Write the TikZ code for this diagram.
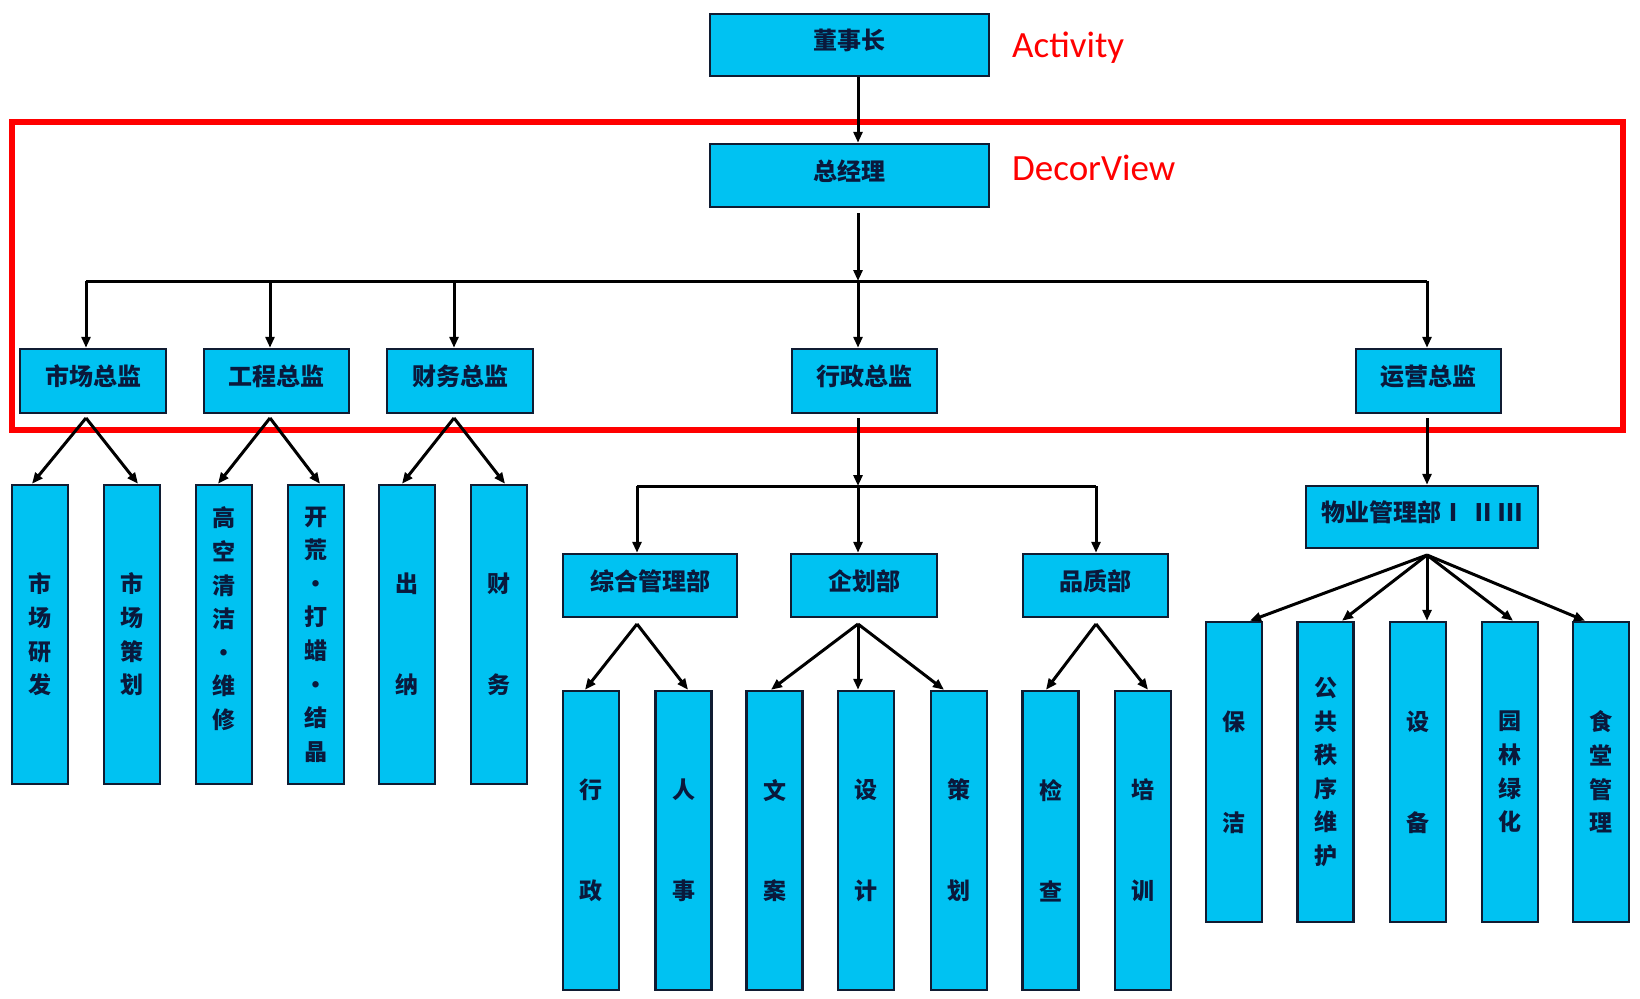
\documentclass[tikz,border=0pt]{standalone}
\usepackage{fontspec}
\newfontfamily\cjk{Noto Sans CJK SC}
\newfontfamily\latinsans{Carlito}
\usetikzlibrary{arrows.meta}
\definecolor{boxfill}{RGB}{0,194,242}
\definecolor{boxline}{RGB}{16,28,50}
\definecolor{txtcol}{RGB}{10,25,60}
\begin{document}
\begin{tikzpicture}[x=1pt,y=-1pt,
  box/.style={draw=boxline,fill=boxfill,line width=2.5pt,inner sep=0pt,text=txtcol,
    font=\cjk\bfseries\fontsize{24}{28}\selectfont},
  hbox/.style={box,minimum height=63pt,text height=20pt,text depth=11pt},
  vbox/.style={box,minimum width=56pt,minimum height=299pt,align=center,
    font=\cjk\bfseries\fontsize{23}{33.6}\selectfont},
  arr/.style={line width=3pt,draw=black,-{Triangle[length=11pt,width=9pt]}},
  ln/.style={line width=3pt,draw=black},
  redlabel/.style={anchor=base west,inner sep=0pt,text=red,font=\latinsans\fontsize{37}{40}\selectfont}
]
\useasboundingbox (0,0) rectangle (1640,998);
\fill[white] (0,0) rectangle (1640,998);

% red frame
\draw[red,line width=5.5pt] (12,122) rectangle (1623,430);
\node[redlabel] (act) at (1012,57) {Activity};
\node[redlabel] (dec) at (1012,180) {DecorView};

% top
\node[hbox,minimum width=279pt,minimum height=62pt] (dsz) at (849.5,45) {董事长};
\node[hbox,minimum width=279pt] (zjl) at (849.5,175.5) {总经理};

% level 2
\node[hbox,minimum width=146pt,minimum height=64pt] (sc) at (93,381) {市场总监};
\node[hbox,minimum width=145pt,minimum height=64pt] (gc) at (276.5,381) {工程总监};
\node[hbox,minimum width=146pt,minimum height=64pt] (cw) at (460,381) {财务总监};
\node[hbox,minimum width=145pt,minimum height=64pt] (xz) at (864.5,381) {行政总监};
\node[hbox,minimum width=145pt,minimum height=64pt] (yy) at (1428.5,381) {运营总监};

% level 3 left
\node[vbox] (v1) at (40,634.5) {市\\场\\研\\发};
\node[vbox] (v2) at (132,634.5) {市\\场\\策\\划};
\node[vbox] (v3) at (224,634.5) {高\\空\\清\\洁\\·\\维\\修\\\mbox{}};
\node[vbox] (v4) at (316,634.5) {开\\荒\\·\\打\\蜡\\·\\结\\晶};
\node[vbox] (v5) at (407,634.5) {出\\\mbox{}\\\mbox{}\\纳};
\node[vbox] (v6) at (499,634.5) {财\\\mbox{}\\\mbox{}\\务};

% middle departments
\node[hbox,minimum width=174pt] (zh) at (650,585.5) {综合管理部};
\node[hbox,minimum width=146pt] (qh) at (864,585.5) {企划部};
\node[hbox,minimum width=145pt] (pz) at (1095.5,585.5) {品质部};

\node[vbox] (m1) at (591,840.5) {行\\\mbox{}\\\mbox{}\\政};
\node[vbox] (m2) at (683.5,840.5) {人\\\mbox{}\\\mbox{}\\事};
\node[vbox] (m3) at (774.5,840.5) {文\\\mbox{}\\\mbox{}\\案};
\node[vbox] (m4) at (866,840.5) {设\\\mbox{}\\\mbox{}\\计};
\node[vbox] (m5) at (959,840.5) {策\\\mbox{}\\\mbox{}\\划};
\node[vbox] (m6) at (1050.5,840.5) {检\\\mbox{}\\\mbox{}\\查};
\node[vbox] (m7) at (1143,840.5) {培\\\mbox{}\\\mbox{}\\训};

% right
\node[hbox,minimum width=232pt,minimum height=62pt] (wy) at (1422,517) {物业管理部Ⅰ Ⅱ\hspace{3pt}Ⅲ};
\node[vbox,minimum height=300pt] (r1) at (1234,772) {保\\\mbox{}\\\mbox{}\\洁};
\node[vbox,minimum height=300pt] (r2) at (1325.5,772) {公\\共\\秩\\序\\维\\护};
\node[vbox,minimum height=300pt] (r3) at (1418,772) {设\\\mbox{}\\\mbox{}\\备};
\node[vbox,minimum height=300pt] (r4) at (1510,772) {园\\林\\绿\\化};
\node[vbox,minimum height=300pt] (r5) at (1601,772) {食\\堂\\管\\理};

% junction coordinates
\coordinate (barL) at (86,281);
\coordinate (b2) at (270,281);
\coordinate (b3) at (454,281);
\coordinate (bar) at (858,281);
\coordinate (barR) at (1427,281);
\coordinate (mbarL) at (637,486);
\coordinate (mbar) at (858,486);
\coordinate (mbarR) at (1096,486);
\coordinate (apSC) at (86,418);
\coordinate (apGC) at (270,418);
\coordinate (apCW) at (454,418);
\coordinate (apZH) at (637,624);
\coordinate (apQH) at (858,624);
\coordinate (apPZ) at (1096,624);
\coordinate (apWY) at (1427,555);

% top connectors
\draw[arr] ([xshift=8.5pt]dsz.south) -- ([xshift=8.5pt]zjl.north);
\draw[arr] ([xshift=8.5pt,yshift=-5pt]zjl.south) -- (bar);
\draw[ln] (barL) -- (barR);
\draw[arr] (barL) -- (barL |- sc.north);
\draw[arr] (b2) -- (b2 |- gc.north);
\draw[arr] (b3) -- (b3 |- cw.north);
\draw[arr] (bar) -- (bar |- xz.north);
\draw[arr] (barR) -- (barR |- yy.north);

% left branches
\draw[arr] (apSC) -- ([xshift=-8pt]v1.north);
\draw[arr] (apSC) -- ([xshift=6pt]v2.north);
\draw[arr] (apGC) -- ([xshift=-6pt]v3.north);
\draw[arr] (apGC) -- ([xshift=4pt]v4.north);
\draw[arr] (apCW) -- ([xshift=-5pt]v5.north);
\draw[arr] (apCW) -- ([xshift=6pt]v6.north);

% middle
\draw[arr] ([xshift=-6.5pt,yshift=-4pt]xz.south) -- (mbar);
\draw[ln] (mbarL) -- (mbarR);
\draw[arr] (mbarL) -- (mbarL |- zh.north);
\draw[arr] (mbar) -- (mbar |- qh.north);
\draw[arr] (mbarR) -- (mbarR |- pz.north);
\draw[arr] (apZH) -- ([xshift=-6pt]m1.north);
\draw[arr] (apZH) -- ([xshift=4.5pt]m2.north);
\draw[arr] (apQH) -- ([xshift=-3.5pt]m3.north);
\draw[arr] (apQH) -- ([xshift=-8pt]m4.north);
\draw[arr] (apQH) -- ([xshift=-15pt]m5.north);
\draw[arr] (apPZ) -- ([xshift=-4.5pt]m6.north);
\draw[arr] (apPZ) -- ([xshift=5pt]m7.north);

% right
\draw[arr] ([xshift=-1.5pt,yshift=-4pt]yy.south) -- ([xshift=5pt]wy.north);
\draw[arr] (apWY) -- ([xshift=16pt]r1.north);
\draw[arr] (apWY) -- ([xshift=16.5pt]r2.north);
\draw[arr] (apWY) -- ([xshift=9pt]r3.north);
\draw[arr] (apWY) -- ([xshift=3pt]r4.north);
\draw[arr] (apWY) -- ([xshift=-16pt]r5.north);
\end{tikzpicture}
\end{document}
